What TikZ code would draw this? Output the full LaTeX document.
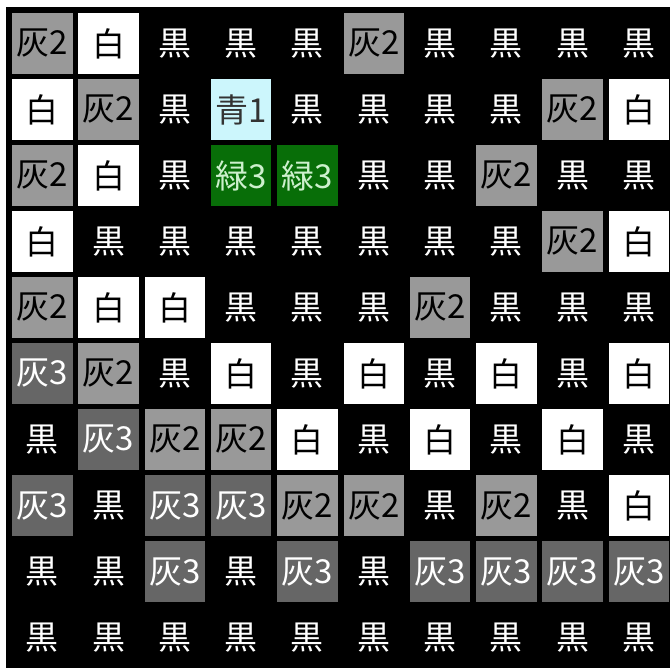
\documentclass[tikz,border=0pt]{standalone}
\usepackage{fontspec}
\newfontfamily\jp{Noto Sans CJK JP}
\definecolor{grayB}{RGB}{153,153,153}
\definecolor{grayC}{RGB}{102,102,102}
\definecolor{cyanA}{RGB}{204,246,252}
\definecolor{greenC}{RGB}{8,110,8}
\definecolor{greenT}{RGB}{205,240,205}
\tikzset{
  cell/.style={minimum width=60.5pt, minimum height=61pt, inner sep=0pt, font=\jp\fontsize{33}{33}\selectfont},
  tA/.style={cell, fill=grayB, text=black, node contents={灰2}},
  tB/.style={cell, fill=grayC, text=white, node contents={灰3}},
  tW/.style={cell, fill=white, text=black, node contents={白}},
  tK/.style={cell, fill=black, text=white, node contents={黒}},
  tC/.style={cell, fill=cyanA, text=black!80, node contents={青1}},
  tG/.style={cell, fill=greenC, text=greenT, node contents={緑3}},
}
\begin{document}
\begin{tikzpicture}[x=1pt,y=-1pt]
\useasboundingbox (0,0) rectangle (670,668);
\fill[white] (0,0) rectangle (670,668);
\fill[black] (6,7) rectangle (670,668);
\foreach \row [count=\r from 0] in {
  {A,W,K,K,K,A,K,K,K,K},
  {W,A,K,C,K,K,K,K,A,W},
  {A,W,K,G,G,K,K,A,K,K},
  {W,K,K,K,K,K,K,K,A,W},
  {A,W,W,K,K,K,A,K,K,K},
  {B,A,K,W,K,W,K,W,K,W},
  {K,B,A,A,W,K,W,K,W,K},
  {B,K,B,B,A,A,K,A,K,W},
  {K,K,B,K,B,K,B,B,B,B},
  {K,K,K,K,K,K,K,K,K,K}}{
  \foreach \t [count=\c from 0] in \row {
    \node[name=n-\r-\c, at={(42.25+66.3*\c, 43.5+66*\r)}, t\t];
  }
}
\end{tikzpicture}
\end{document}
